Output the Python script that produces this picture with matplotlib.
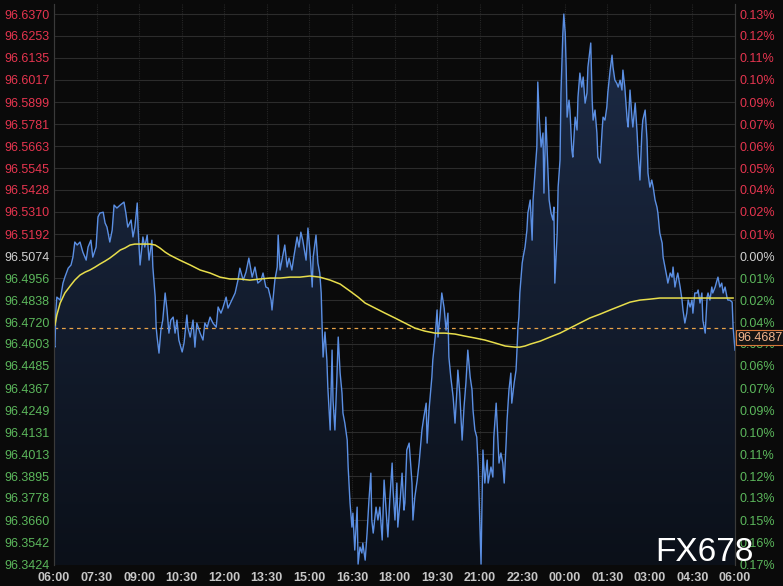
import matplotlib.pyplot as plt
import numpy as np
from matplotlib.colors import LinearSegmentedColormap
from matplotlib.transforms import blended_transform_factory

plt.rcParams['font.family'] = ['Liberation Sans', 'DejaVu Sans']

# y axis labels, top to bottom
price_ticks = [96.6370, 96.6253, 96.6135, 96.6017, 96.5899, 96.5781, 96.5663,
               96.5545, 96.5428, 96.5310, 96.5192, 96.5074, 96.4956, 96.4838,
               96.4720, 96.4603, 96.4485, 96.4367, 96.4249, 96.4131, 96.4013,
               96.3895, 96.3778, 96.3660, 96.3542, 96.3424]
pct_labels = ["0.13%", "0.12%", "0.11%", "0.10%", "0.09%", "0.07%", "0.06%",
              "0.05%", "0.04%", "0.02%", "0.01%", "0.00%", "0.01%", "0.02%",
              "0.04%", "0.05%", "0.06%", "0.07%", "0.09%", "0.10%", "0.11%",
              "0.12%", "0.13%", "0.15%", "0.16%", "0.17%"]
prev_close = 96.5074
ref_price = 96.4687

time_labels = ["06:00", "07:30", "09:00", "10:30", "12:00", "13:30", "15:00",
               "16:30", "18:00", "19:30", "21:00", "22:30", "00:00", "01:30",
               "03:00", "04:30", "06:00"]

# minutes after 06:00 / price
minutes = [0, 2, 4, 6, 13, 19, 23, 30, 36, 40, 44, 49, 55, 61, 68, 72, 78, 82,
           89, 93, 97, 104, 108, 112, 118, 123, 127, 133, 140, 148, 152, 156,
           163, 167, 171, 176, 178, 182, 188, 192, 197, 201, 207, 209, 214, 216,
           218, 222, 226, 230, 235, 239, 243, 247, 252, 256, 260, 264, 271, 275,
           281, 283, 288, 294, 298, 302, 309, 315, 319, 324, 330, 336, 343, 347,
           353, 357, 364, 368, 376, 383, 389, 393, 400, 406, 412, 419, 425, 431,
           438, 442, 448, 453, 459, 461, 467, 472, 474, 478, 482, 488, 493, 497,
           503, 507, 514, 518, 522, 526, 533, 537, 541, 546, 548, 554, 558, 562,
           565, 567, 569, 573, 577, 579, 584, 588, 590, 594, 598, 601, 605, 609,
           611, 615, 620, 622, 626, 630, 632, 636, 641, 643, 647, 651, 653, 658,
           662, 666, 670, 672, 675, 681, 685, 689, 694, 698, 704, 706, 710, 715,
           717, 721, 725, 727, 732, 736, 740, 742, 746, 751, 757, 759, 763, 768,
           772, 778, 782, 787, 789, 793, 799, 801, 806, 810, 812, 816, 820, 825,
           829, 833, 835, 839, 844, 848, 852, 854, 858, 863, 867, 871, 875, 880,
           884, 886, 890, 894, 897, 899, 903, 905, 907, 911, 916, 918, 924, 928,
           930, 935, 939, 941, 945, 949, 952, 956, 958, 962, 966, 968, 973, 977,
           979, 981, 983, 985, 990, 992, 996, 1000, 1002, 1007, 1011, 1013, 1017,
           1021, 1023, 1026, 1030, 1034, 1036, 1040, 1042, 1047, 1051, 1055,
           1057, 1059, 1064, 1066, 1070, 1072, 1076, 1078, 1081, 1083, 1085,
           1089, 1091, 1095, 1097, 1102, 1106, 1108, 1112, 1116, 1119, 1123,
           1127, 1129, 1135, 1138, 1140, 1144, 1148, 1150, 1155, 1159, 1161,
           1165, 1169, 1171, 1176, 1180, 1182, 1186, 1190, 1193, 1197, 1201,
           1203, 1207, 1212, 1214, 1218, 1222, 1224, 1229, 1233, 1235, 1239,
           1243, 1245, 1250, 1254, 1256, 1260, 1264, 1267, 1271, 1275, 1277,
           1281, 1286, 1288, 1292, 1296, 1298, 1303, 1307, 1309, 1313, 1317,
           1319, 1324, 1328, 1330, 1334, 1338, 1341, 1345, 1349, 1351, 1355,
           1360, 1362, 1366, 1370, 1372, 1377, 1381, 1383, 1387, 1391, 1393,
           1398, 1402, 1404, 1408, 1412, 1415, 1419, 1423, 1425, 1429, 1434,
           1436, 1440]
prices = [96.4597, 96.4586, 96.4785, 96.4854, 96.4838, 96.4929, 96.4961, 96.5009,
          96.5026, 96.5068, 96.5149, 96.5133, 96.5149, 96.5095, 96.5052, 96.5122,
          96.5159, 96.5068, 96.5122, 96.5283, 96.5304, 96.5309, 96.5251, 96.5229,
          96.5149, 96.5213, 96.5347, 96.5331, 96.5347, 96.5363, 96.5304, 96.5229,
          96.5267, 96.5176, 96.5229, 96.5358, 96.5213, 96.5026, 96.5176, 96.5122,
          96.5186, 96.5052, 96.5159, 96.5015, 96.4854, 96.4693, 96.4640, 96.4554,
          96.4677, 96.4731, 96.4876, 96.4785, 96.4661, 96.4731, 96.4747, 96.4661,
          96.4731, 96.4624, 96.4560, 96.4608, 96.4758, 96.4693, 96.4640, 96.4731,
          96.4586, 96.4715, 96.4661, 96.4624, 96.4715, 96.4693, 96.4747, 96.4715,
          96.4693, 96.4801, 96.4768, 96.4795, 96.4854, 96.4795, 96.4838, 96.4876,
          96.4945, 96.5009, 96.4945, 96.4988, 96.5063, 96.4961, 96.5015, 96.4929,
          96.4945, 96.4983, 96.4908, 96.4902, 96.4838, 96.4785, 96.4945, 96.5015,
          96.5186, 96.4999, 96.5052, 96.5133, 96.5015, 96.5063, 96.4999, 96.5068,
          96.5176, 96.5122, 96.5202, 96.5159, 96.5052, 96.5224, 96.5106, 96.4908,
          96.5068, 96.5186, 96.5036, 96.4983, 96.4876, 96.4693, 96.4533, 96.4667,
          96.4517, 96.4372, 96.4142, 96.4570, 96.4302, 96.4142, 96.4410, 96.4640,
          96.4447, 96.4340, 96.4233, 96.4179, 96.4088, 96.3944, 96.3751, 96.3622,
          96.3697, 96.3499, 96.3729, 96.3424, 96.3515, 96.3483, 96.3536, 96.3445,
          96.3590, 96.3767, 96.3911, 96.3660, 96.3590, 96.3729, 96.3660, 96.3729,
          96.3553, 96.3874, 96.3644, 96.3569, 96.3767, 96.3965, 96.3820, 96.3660,
          96.3858, 96.3622, 96.3767, 96.3911, 96.3713, 96.3751, 96.4035, 96.4072,
          96.3858, 96.3660, 96.3783, 96.3874, 96.3965, 96.4142, 96.4211, 96.4286,
          96.4072, 96.4249, 96.4426, 96.4517, 96.4640, 96.4785, 96.4640, 96.4747,
          96.4876, 96.4795, 96.4677, 96.4768, 96.4533, 96.4426, 96.4319, 96.4179,
          96.4356, 96.4463, 96.4340, 96.4088, 96.4265, 96.4394, 96.4570, 96.4426,
          96.4356, 96.4249, 96.4142, 96.4104, 96.3944, 96.3767, 96.3424, 96.3751,
          96.4035, 96.3858, 96.3981, 96.3858, 96.3944, 96.3890, 96.4104, 96.4286,
          96.4072, 96.3965, 96.4019, 96.3965, 96.3858, 96.4072, 96.4195, 96.4356,
          96.4447, 96.4286, 96.4394, 96.4463, 96.4570, 96.4693, 96.4747, 96.4876,
          96.5036, 96.5068, 96.5122, 96.5213, 96.5304, 96.5374, 96.5159, 96.5374,
          96.5518, 96.5658, 96.6006, 96.5818, 96.5658, 96.5733, 96.5411, 96.5818,
          96.5695, 96.5374, 96.5304, 96.5267, 96.5336, 96.4929, 96.5197, 96.5443,
          96.5588, 96.5947, 96.6268, 96.6370, 96.6268, 96.6086, 96.5818, 96.5909,
          96.5856, 96.5642, 96.5604, 96.5818, 96.5749, 96.5925, 96.6054, 96.5979,
          96.6033, 96.5893, 96.5947, 96.6086, 96.6215, 96.5909, 96.5802, 96.5856,
          96.5733, 96.5604, 96.5572, 96.5749, 96.5818, 96.5802, 96.5872, 96.5947,
          96.6070, 96.6150, 96.6086, 96.6016, 96.6000, 96.5979, 96.6016, 96.5963,
          96.6070, 96.5979, 96.5802, 96.5765, 96.5963, 96.5818, 96.5765, 96.5893,
          96.5733, 96.5625, 96.5481, 96.5733, 96.5802, 96.5856, 96.5695, 96.5518,
          96.5443, 96.5481, 96.5443, 96.5374, 96.5336, 96.5304, 96.5197, 96.5143,
          96.5068, 96.5015, 96.4961, 96.4929, 96.4983, 96.4961, 96.5015, 96.4908,
          96.4961, 96.4983, 96.4908, 96.4838, 96.4785, 96.4715, 96.4768, 96.4838,
          96.4801, 96.4838, 96.4768, 96.4876, 96.4876, 96.4892, 96.4822, 96.4876,
          96.4731, 96.4661, 96.4854, 96.4876, 96.4838, 96.4908, 96.4876, 96.4908,
          96.4945, 96.4961, 96.4908, 96.4929, 96.4876, 96.4908, 96.4854, 96.4838,
          96.4838, 96.4827, 96.4693, 96.4570]

# moving average line
ma_minutes = [2, 6, 13, 23, 34, 44, 55, 66, 76, 87, 97, 108, 118, 129, 140,
              150, 161, 171, 182, 192, 203, 214, 224, 235, 245, 266, 288, 309,
              330, 351, 372, 393, 414, 436, 457, 478, 499, 520, 541, 562, 584,
              605, 626, 643, 658, 679, 700, 721, 742, 763, 784, 806, 827, 848,
              869, 890, 911, 933, 954, 975, 985, 996, 1007, 1028, 1049, 1070,
              1091, 1112, 1133, 1155, 1176, 1197, 1218, 1239, 1260, 1281, 1303,
              1324, 1366, 1408, 1436]
ma_prices = [96.4704, 96.4758, 96.4822, 96.4876, 96.4913, 96.4945, 96.4972,
             96.4988, 96.4999, 96.5015, 96.5031, 96.5047, 96.5063, 96.5084,
             96.5106, 96.5117, 96.5133, 96.5138, 96.5138, 96.5138, 96.5138,
             96.5133, 96.5117, 96.5095, 96.5079, 96.5052, 96.5026, 96.4999,
             96.4983, 96.4961, 96.4951, 96.4951, 96.4945, 96.4951, 96.4956,
             96.4956, 96.4961, 96.4961, 96.4967, 96.4961, 96.4945, 96.4924,
             96.4886, 96.4854, 96.4822, 96.4795, 96.4768, 96.4742, 96.4715,
             96.4688, 96.4672, 96.4661, 96.4661, 96.4656, 96.4645, 96.4635,
             96.4624, 96.4608, 96.4592, 96.4586, 96.4586, 96.4592, 96.4602,
             96.4618, 96.4640, 96.4661, 96.4688, 96.4715, 96.4742, 96.4763,
             96.4785, 96.4806, 96.4827, 96.4838, 96.4843, 96.4849, 96.4849,
             96.4849, 96.4849, 96.4849, 96.4849]

bg = '#0a0a0a'
fig = plt.figure(figsize=(7.83, 5.86), dpi=100, facecolor=bg)
ax = fig.add_axes([54 / 783, 21 / 586, 681 / 783, 561 / 586])
ax.set_facecolor(bg)
ylo, yhi = 96.3419, 96.6424

# gradient area under the price line
fill = ax.fill_between(minutes, prices, ylo, color='none', lw=0)
grad = np.linspace(0, 1, 256).reshape(-1, 1)
cmap = LinearSegmentedColormap.from_list('area', ['#0b1019', '#1d2c48'])
img = ax.imshow(grad, extent=[0, 1440, ylo, yhi], aspect='auto', cmap=cmap,
                origin='lower', zorder=1)
img.set_clip_path(fill.get_paths()[0], transform=ax.transData)

ax.plot(minutes, prices, color='#5b8fe3', lw=1.0, zorder=3)
ax.plot(ma_minutes, ma_prices, color='#e8de4c', lw=1.1, zorder=4)
ax.axhline(ref_price, color='#e8a248', lw=0.9, ls=(0, (3, 3)), zorder=2)

ax.set_xlim(0, 1440)
ax.set_ylim(ylo, yhi)

ax.set_xticks(np.arange(0, 1441, 90))
ax.set_xticklabels(time_labels)
ax.set_yticks(price_ticks)
ax.set_yticklabels([f"{v:.4f}" for v in price_ticks])
ax.grid(axis='y', color='#2c2c2c', lw=0.8)
ax.grid(axis='x', color='#262626', lw=0.8, ls=(0, (1, 1)))
ax.set_axisbelow(True)
ax.tick_params(axis='y', length=0, pad=3, labelsize=9)
ax.tick_params(axis='x', length=0, pad=5, labelsize=9, labelcolor='#c6c6c6')
for lab in ax.get_xticklabels():
    lab.set_fontweight('bold')

red, green, neutral = '#e6354f', '#5cb85c', '#d2d2d2'


def label_color(v):
    if abs(v - prev_close) < 1e-6:
        return neutral
    return red if v > prev_close else green


for lab, v in zip(ax.get_yticklabels(), price_ticks):
    lab.set_color(label_color(v))

ax2 = ax.twinx()
ax2.set_ylim(ylo, yhi)
ax2.set_yticks(price_ticks)
ax2.set_yticklabels(pct_labels)
ax2.tick_params(axis='y', length=0, pad=3, labelsize=9)
for lab, v in zip(ax2.get_yticklabels(), price_ticks):
    lab.set_color(label_color(v))

for a in (ax, ax2):
    for side in ('top', 'bottom'):
        a.spines[side].set_visible(False)
    a.spines['left'].set_color('#3a3a3a')
    a.spines['right'].set_color('#3a3a3a')

# current price tag on the right
trans = blended_transform_factory(ax2.transAxes, ax2.transData)
ax2.text(1.004, 96.4636, f"{ref_price:.4f}", transform=trans, fontsize=9,
         color='#f3b48c', va='center', ha='left', zorder=10, clip_on=False,
         bbox=dict(boxstyle='square,pad=0.12', fc='#141414', ec='#d8783a', lw=0.8))

fig.text(655 / 783, 1 - 561 / 586, "FX678", fontsize=24, color='white',
         ha='left', va='baseline')

fig.savefig('out.png', dpi=100, facecolor=bg)
